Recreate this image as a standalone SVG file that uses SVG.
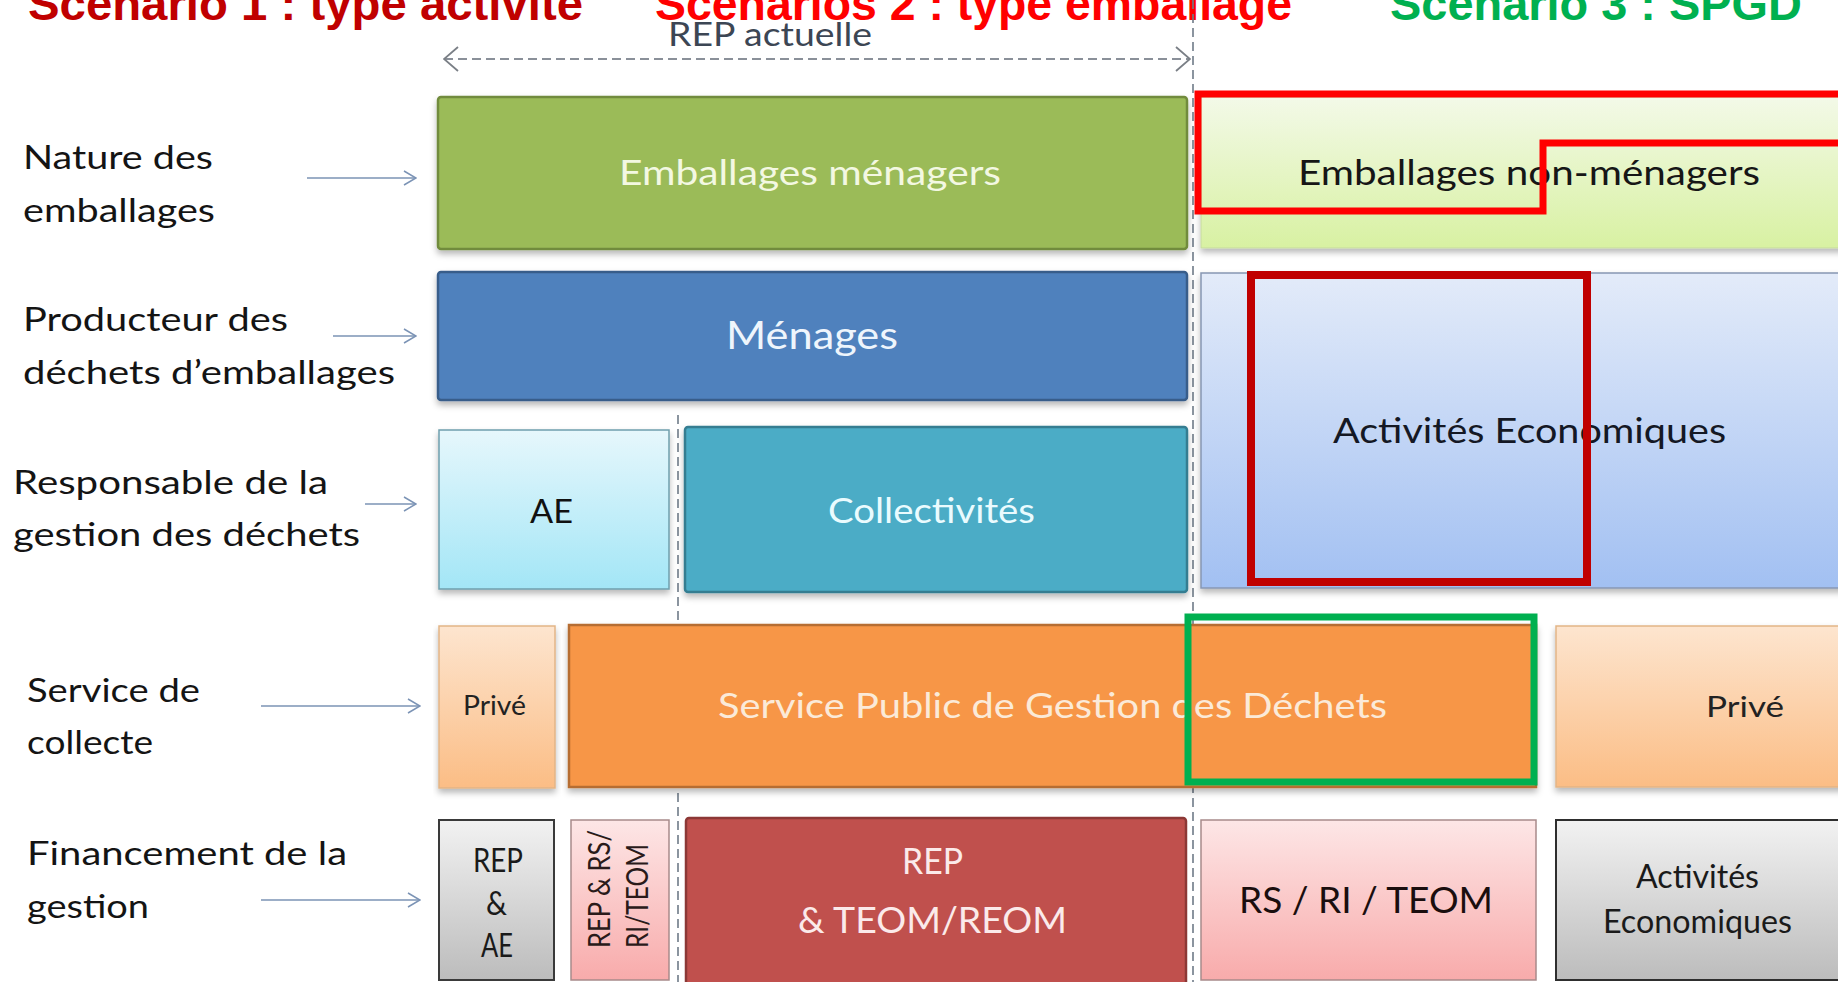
<svg xmlns="http://www.w3.org/2000/svg" width="1838" height="982" viewBox="0 0 1838 982">
  <defs>
    <style>
      .lbl { font-family: Lato, "Liberation Sans", sans-serif; font-size: 33px; fill: #141414; }
      .box-t { font-family: Lato, "Liberation Sans", sans-serif; }
      .title { font-family: "Liberation Sans", Arial, sans-serif; font-weight: bold; font-size: 47px; }
      .arrow { stroke: #7b93b5; stroke-width: 1.6; fill: none; marker-end: url(#chev); }
      .vdash { stroke: #6f7b88; stroke-width: 1.6; stroke-dasharray: 9 5; fill: none; }
      .frame { fill: none; }
    </style>
    <marker id="chev" viewBox="0 0 14 16" refX="13" refY="8" markerWidth="14" markerHeight="16" markerUnits="userSpaceOnUse" orient="auto">
      <path d="M1,1 L13,8 L1,15" fill="none" stroke="#7b93b5" stroke-width="1.5"/>
    </marker>
    <marker id="chevGrey" viewBox="0 0 16 26" refX="15" refY="13" markerWidth="16" markerHeight="26" markerUnits="userSpaceOnUse" orient="auto-start-reverse">
      <path d="M1,1 L15,13 L1,25" fill="none" stroke="#7a7f86" stroke-width="1.8"/>
    </marker>
    <filter id="shadow" x="-5%" y="-10%" width="110%" height="130%">
      <feDropShadow dx="0" dy="4" stdDeviation="3" flood-color="#000" flood-opacity="0.28"/>
    </filter>
    <linearGradient id="gLightGreen" x1="0" y1="0" x2="0" y2="1">
      <stop offset="0" stop-color="#f3f9e8"/>
      <stop offset="1" stop-color="#d8f1a2"/>
    </linearGradient>
    <linearGradient id="gLightBlue" x1="0" y1="0" x2="0" y2="1">
      <stop offset="0" stop-color="#e3ebf9"/>
      <stop offset="1" stop-color="#a2c0f2"/>
    </linearGradient>
    <linearGradient id="gCyan" x1="0" y1="0" x2="0" y2="1">
      <stop offset="0" stop-color="#e6f7fc"/>
      <stop offset="1" stop-color="#a3e6f6"/>
    </linearGradient>
    <linearGradient id="gPeach" x1="0" y1="0" x2="0" y2="1">
      <stop offset="0" stop-color="#fde5cf"/>
      <stop offset="1" stop-color="#fbbd85"/>
    </linearGradient>
    <linearGradient id="gGrey" x1="0" y1="0" x2="0" y2="1">
      <stop offset="0" stop-color="#f2f2f2"/>
      <stop offset="1" stop-color="#bcbcbc"/>
    </linearGradient>
    <linearGradient id="gPink" x1="0" y1="0" x2="0" y2="1">
      <stop offset="0" stop-color="#fde6e6"/>
      <stop offset="1" stop-color="#f8abab"/>
    </linearGradient>
  </defs>

  <rect x="0" y="0" width="1838" height="982" fill="#ffffff"/>

  <!-- scenario headings along the top edge -->
  <g id="titles">
    <text class="title" x="28" y="20" fill="#c00000" textLength="555" lengthAdjust="spacingAndGlyphs">Scenario 1 : type activité</text>
    <text class="title" x="655" y="20" fill="#ff0000" textLength="637" lengthAdjust="spacingAndGlyphs">Scenarios 2 : type emballage</text>
    <text class="title" x="1390" y="20" fill="#00b050" textLength="412" lengthAdjust="spacingAndGlyphs">Scenario 3 : SPGD</text>
  </g>

  <!-- column separators and the current-scope span -->
  <g id="connectors">
    <path class="vdash" d="M1193,0 V982"/>
    <path class="vdash" d="M678,415 V982"/>
    <path d="M444,59 H1190" stroke="#8a9099" stroke-width="1.8" stroke-dasharray="9 5" fill="none" marker-start="url(#chevGrey)" marker-end="url(#chevGrey)"/>
    <path class="arrow" d="M307,178 H416"/>
    <path class="arrow" d="M333,336 H416"/>
    <path class="arrow" d="M365,504 H416"/>
    <path class="arrow" d="M261,706 H420"/>
    <path class="arrow" d="M261,900 H420"/>
  </g>

  <g id="rep-actuelle">
    <text class="box-t" x="668" y="46" font-size="32" fill="#3c4654" textLength="204" lengthAdjust="spacingAndGlyphs">REP actuelle</text>
  </g>

  <!-- row headings -->
  <g id="row-labels">
    <text class="lbl" x="23" y="169" textLength="190" lengthAdjust="spacingAndGlyphs">Nature des</text>
    <text class="lbl" x="23" y="222" textLength="192" lengthAdjust="spacingAndGlyphs">emballages</text>
    <text class="lbl" x="23" y="331" textLength="265" lengthAdjust="spacingAndGlyphs">Producteur des</text>
    <text class="lbl" x="23" y="384" textLength="372" lengthAdjust="spacingAndGlyphs">déchets d’emballages</text>
    <text class="lbl" x="13" y="494" textLength="315" lengthAdjust="spacingAndGlyphs">Responsable  de la</text>
    <text class="lbl" x="13" y="546" textLength="347" lengthAdjust="spacingAndGlyphs">gestion  des déchets</text>
    <text class="lbl" x="27" y="702" textLength="173" lengthAdjust="spacingAndGlyphs">Service  de</text>
    <text class="lbl" x="27" y="754" textLength="126" lengthAdjust="spacingAndGlyphs">collecte</text>
    <text class="lbl" x="27" y="865" textLength="320" lengthAdjust="spacingAndGlyphs">Financement  de la</text>
    <text class="lbl" x="27" y="918" textLength="122" lengthAdjust="spacingAndGlyphs">gestion</text>
  </g>

  <!-- row 1 : packaging type -->
  <g id="emballages-menagers">
    <rect x="438" y="97" width="749" height="152" rx="3" fill="#9bbb59" stroke="#718b3c" stroke-width="2.5" filter="url(#shadow)"/>
    <text class="box-t" x="619" y="185" font-size="35" fill="#f3f8e2" textLength="382" lengthAdjust="spacingAndGlyphs">Emballages  ménagers</text>
  </g>
  <g id="emballages-non-menagers">
    <rect x="1201" y="97" width="650" height="151" fill="url(#gLightGreen)" stroke="#c6d9a0" stroke-width="1" filter="url(#shadow)"/>
    <text class="box-t" x="1298" y="185" font-size="35" fill="#161616" textLength="462" lengthAdjust="spacingAndGlyphs">Emballages  non-ménagers</text>
  </g>

  <!-- row 2 : waste producer -->
  <g id="menages">
    <rect x="438" y="272" width="749" height="128" rx="3" fill="#4f81bd" stroke="#385d8a" stroke-width="2.5" filter="url(#shadow)"/>
    <text class="box-t" x="726" y="349" font-size="38" fill="#eef5fc" textLength="172" lengthAdjust="spacingAndGlyphs">Ménages</text>
  </g>
  <g id="activites-economiques">
    <rect x="1201" y="273" width="650" height="315" fill="url(#gLightBlue)" stroke="#8797b3" stroke-width="1.5" filter="url(#shadow)"/>
    <text class="box-t" x="1333" y="443" font-size="35" fill="#141824" textLength="393" lengthAdjust="spacingAndGlyphs">Activités  Economiques</text>
  </g>

  <!-- row 3 : who manages the waste -->
  <g id="ae">
    <rect x="439" y="430" width="230" height="159" fill="url(#gCyan)" stroke="#6f9fad" stroke-width="1.5" filter="url(#shadow)"/>
    <text class="box-t" x="530" y="523" font-size="33" fill="#111" textLength="43" lengthAdjust="spacingAndGlyphs">AE</text>
  </g>
  <g id="collectivites">
    <rect x="685" y="427" width="502" height="165" rx="3" fill="#4bacc6" stroke="#357d91" stroke-width="2.5" filter="url(#shadow)"/>
    <text class="box-t" x="828" y="523" font-size="34" fill="#eafbfe" textLength="207" lengthAdjust="spacingAndGlyphs">Collectivités</text>
  </g>

  <!-- row 4 : collection service -->
  <g id="prive-gauche">
    <rect x="439" y="626" width="116" height="162" fill="url(#gPeach)" stroke="#e2b587" stroke-width="1.5" filter="url(#shadow)"/>
    <text class="box-t" x="463" y="715" font-size="26" fill="#222" textLength="63" lengthAdjust="spacingAndGlyphs">Privé</text>
  </g>
  <g id="spgd">
    <rect x="569" y="625" width="967" height="162" fill="#f79646" stroke="#b66d31" stroke-width="2.5" filter="url(#shadow)"/>
    <text class="box-t" x="718" y="718" font-size="35" fill="#fbead8" textLength="669" lengthAdjust="spacingAndGlyphs">Service  Public de Gestion  des Déchets</text>
  </g>
  <g id="prive-droite">
    <rect x="1556" y="626" width="295" height="161" fill="url(#gPeach)" stroke="#e2b587" stroke-width="1.5" filter="url(#shadow)"/>
    <text class="box-t" x="1706" y="717" font-size="28" fill="#222" textLength="78" lengthAdjust="spacingAndGlyphs">Privé</text>
  </g>

  <!-- row 5 : funding -->
  <g id="rep-ae">
    <rect x="439" y="820" width="115" height="160" fill="url(#gGrey)" stroke="#3a3a3a" stroke-width="2"/>
    <text class="box-t" x="473" y="872" font-size="32" fill="#1a1a1a" textLength="50" lengthAdjust="spacingAndGlyphs">REP</text>
    <text class="box-t" x="486" y="915" font-size="32" fill="#1a1a1a" textLength="21" lengthAdjust="spacingAndGlyphs">&amp;</text>
    <text class="box-t" x="481" y="957" font-size="32" fill="#1a1a1a" textLength="32" lengthAdjust="spacingAndGlyphs">AE</text>
  </g>
  <g id="rep-rs">
    <rect x="571" y="820" width="98" height="160" fill="url(#gPink)" stroke="#a88a8a" stroke-width="1.5"/>
    <text class="box-t" transform="translate(610,948) rotate(-90)" font-size="30" fill="#2a1a1a" textLength="118" lengthAdjust="spacingAndGlyphs">REP &amp; RS/</text>
    <text class="box-t" transform="translate(648,948) rotate(-90)" font-size="30" fill="#2a1a1a" textLength="104" lengthAdjust="spacingAndGlyphs">RI/TEOM</text>
  </g>
  <g id="rep-teom">
    <rect x="686" y="818" width="500" height="170" rx="3" fill="#c0504d" stroke="#8c3836" stroke-width="2.5"/>
    <text class="box-t" x="902" y="874" font-size="36" fill="#fbeaea" textLength="61" lengthAdjust="spacingAndGlyphs">REP</text>
    <text class="box-t" x="798" y="933" font-size="36" fill="#fbeaea" textLength="269" lengthAdjust="spacingAndGlyphs">&amp; TEOM/REOM</text>
  </g>
  <g id="rs-ri-teom">
    <rect x="1201" y="820" width="335" height="160" fill="url(#gPink)" stroke="#a88a8a" stroke-width="1.5"/>
    <text class="box-t" x="1239" y="913" font-size="37" fill="#1a0e0e" textLength="254" lengthAdjust="spacingAndGlyphs">RS / RI / TEOM</text>
  </g>
  <g id="activites-eco-fin">
    <rect x="1556" y="820" width="295" height="160" fill="url(#gGrey)" stroke="#2e2e2e" stroke-width="2"/>
    <text class="box-t" x="1636" y="888" font-size="32" fill="#1a1a1a" textLength="123" lengthAdjust="spacingAndGlyphs">Activités</text>
    <text class="box-t" x="1603" y="933" font-size="32" fill="#1a1a1a" textLength="189" lengthAdjust="spacingAndGlyphs">Economiques</text>
  </g>

  <!-- scenario outlines -->
  <g id="scenario-frames">
    <path class="frame" d="M1850,94 H1198 V211 H1543 V143 H1850" stroke="#ff0000" stroke-width="7"/>
    <rect class="frame" x="1251" y="275" width="336" height="307" stroke="#c00000" stroke-width="8"/>
    <rect class="frame" x="1188" y="617" width="346" height="165" stroke="#00b050" stroke-width="7"/>
  </g>
</svg>
